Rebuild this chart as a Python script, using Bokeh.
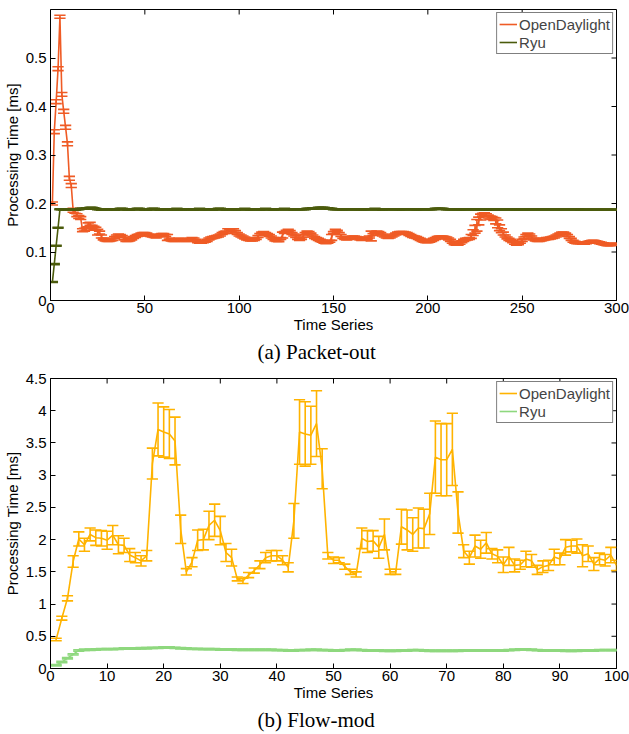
import math
from bokeh.plotting import figure
from bokeh.models import (FixedTicker, Title, Legend, LegendItem,
                          ColumnDataSource, Range1d, CustomJSTickFormatter)
from bokeh.layouts import column
from bokeh.embed import file_html
from bokeh.resources import INLINE

# ---------------- (a) Packet-out ----------------
odl_a = [
    0.200, 0.348, 0.410, 0.478, 0.585, 0.425, 0.390, 0.357, 0.323, 0.252, 0.237, 0.186, 0.183, 0.176, 0.172, 0.170, 0.145, 0.146, 0.148, 0.156,
    0.158, 0.152, 0.150, 0.148, 0.141, 0.140, 0.132, 0.127, 0.125, 0.124, 0.124, 0.125, 0.126, 0.130, 0.133, 0.135, 0.134, 0.132, 0.128, 0.124,
    0.124, 0.125, 0.127, 0.130, 0.132, 0.134, 0.135, 0.137, 0.138, 0.138, 0.137, 0.135, 0.134, 0.133, 0.132, 0.131, 0.133, 0.135, 0.136, 0.136,
    0.134, 0.130, 0.127, 0.125, 0.124, 0.124, 0.125, 0.126, 0.126, 0.125, 0.124, 0.124, 0.125, 0.126, 0.128, 0.127, 0.124, 0.121, 0.120, 0.120,
    0.121, 0.122, 0.124, 0.127, 0.129, 0.130, 0.131, 0.132, 0.133, 0.135, 0.138, 0.140, 0.141, 0.143, 0.145, 0.146, 0.146, 0.142, 0.138, 0.135,
    0.133, 0.131, 0.129, 0.127, 0.126, 0.125, 0.125, 0.126, 0.128, 0.132, 0.136, 0.139, 0.140, 0.138, 0.136, 0.134, 0.131, 0.128, 0.125, 0.124,
    0.123, 0.128, 0.135, 0.140, 0.143, 0.145, 0.142, 0.138, 0.135, 0.132, 0.128, 0.126, 0.128, 0.133, 0.138, 0.141, 0.140, 0.137, 0.133, 0.130,
    0.128, 0.126, 0.124, 0.122, 0.120, 0.119, 0.120, 0.122, 0.130, 0.140, 0.145, 0.143, 0.138, 0.134, 0.130, 0.128, 0.127, 0.128, 0.130, 0.131,
    0.131, 0.130, 0.129, 0.127, 0.126, 0.127, 0.128, 0.129, 0.131, 0.133, 0.136, 0.139, 0.141, 0.140, 0.138, 0.135, 0.133, 0.131, 0.130, 0.131,
    0.133, 0.135, 0.137, 0.139, 0.140, 0.140, 0.140, 0.139, 0.138, 0.136, 0.134, 0.132, 0.131, 0.130, 0.128, 0.126, 0.124, 0.122, 0.121, 0.121,
    0.122, 0.124, 0.126, 0.128, 0.130, 0.131, 0.131, 0.131, 0.130, 0.129, 0.127, 0.124, 0.120, 0.117, 0.116, 0.116, 0.118, 0.121, 0.124, 0.126,
    0.127, 0.128, 0.132, 0.140, 0.147, 0.155, 0.164, 0.172, 0.177, 0.178, 0.176, 0.173, 0.171, 0.170, 0.168, 0.164, 0.158, 0.150, 0.144, 0.138,
    0.133, 0.129, 0.126, 0.124, 0.121, 0.118, 0.116, 0.117, 0.120, 0.124, 0.129, 0.134, 0.137, 0.135, 0.131, 0.127, 0.125, 0.124, 0.124, 0.125,
    0.126, 0.127, 0.128, 0.128, 0.129, 0.130, 0.131, 0.133, 0.135, 0.137, 0.139, 0.139, 0.137, 0.134, 0.130, 0.126, 0.122, 0.120, 0.119, 0.119,
    0.119, 0.118, 0.118, 0.119, 0.120, 0.121, 0.122, 0.122, 0.121, 0.120, 0.119, 0.118, 0.117, 0.116, 0.115, 0.115, 0.115, 0.116, 0.116, 0.116,
]
odl_a_err = [
    0.003, 0.004, 0.004, 0.004, 0.003, 0.004, 0.004, 0.004, 0.004, 0.004, 0.004, 0.004, 0.003, 0.003, 0.003, 0.003, 0.003, 0.003, 0.003, 0.004,
    0.003, 0.003, 0.003, 0.003, 0.006, 0.003, 0.003, 0.002, 0.002, 0.002, 0.002, 0.002, 0.002, 0.002, 0.002, 0.002, 0.002, 0.002, 0.003, 0.002,
    0.002, 0.002, 0.002, 0.002, 0.002, 0.002, 0.002, 0.002, 0.002, 0.002, 0.002, 0.002, 0.002, 0.002, 0.002, 0.002, 0.002, 0.002, 0.002, 0.002,
    0.002, 0.006, 0.002, 0.002, 0.002, 0.002, 0.002, 0.002, 0.002, 0.002, 0.002, 0.002, 0.002, 0.002, 0.002, 0.002, 0.002, 0.002, 0.002, 0.002,
    0.002, 0.002, 0.002, 0.002, 0.002, 0.002, 0.002, 0.002, 0.002, 0.002, 0.002, 0.002, 0.002, 0.005, 0.002, 0.002, 0.002, 0.002, 0.002, 0.002,
    0.002, 0.002, 0.002, 0.002, 0.002, 0.002, 0.002, 0.002, 0.002, 0.002, 0.002, 0.002, 0.002, 0.002, 0.002, 0.002, 0.002, 0.002, 0.002, 0.002,
    0.002, 0.002, 0.006, 0.002, 0.002, 0.002, 0.002, 0.002, 0.002, 0.002, 0.002, 0.002, 0.002, 0.002, 0.002, 0.002, 0.002, 0.002, 0.002, 0.002,
    0.002, 0.002, 0.002, 0.002, 0.002, 0.002, 0.002, 0.002, 0.006, 0.002, 0.002, 0.002, 0.002, 0.002, 0.002, 0.002, 0.002, 0.002, 0.002, 0.002,
    0.002, 0.002, 0.002, 0.002, 0.002, 0.002, 0.002, 0.002, 0.002, 0.010, 0.002, 0.002, 0.002, 0.002, 0.002, 0.002, 0.002, 0.002, 0.002, 0.002,
    0.002, 0.002, 0.002, 0.002, 0.002, 0.002, 0.002, 0.002, 0.002, 0.002, 0.002, 0.002, 0.002, 0.002, 0.002, 0.002, 0.002, 0.002, 0.002, 0.002,
    0.002, 0.002, 0.002, 0.002, 0.002, 0.002, 0.002, 0.002, 0.002, 0.002, 0.002, 0.002, 0.002, 0.002, 0.002, 0.002, 0.002, 0.002, 0.002, 0.002,
    0.002, 0.002, 0.004, 0.006, 0.008, 0.012, 0.008, 0.006, 0.003, 0.003, 0.003, 0.003, 0.003, 0.003, 0.003, 0.006, 0.008, 0.006, 0.004, 0.003,
    0.002, 0.002, 0.002, 0.002, 0.002, 0.002, 0.002, 0.002, 0.002, 0.002, 0.002, 0.002, 0.002, 0.002, 0.002, 0.002, 0.002, 0.002, 0.002, 0.002,
    0.002, 0.002, 0.002, 0.002, 0.002, 0.002, 0.002, 0.002, 0.002, 0.002, 0.002, 0.002, 0.002, 0.002, 0.002, 0.002, 0.002, 0.002, 0.002, 0.002,
    0.002, 0.002, 0.002, 0.002, 0.002, 0.002, 0.002, 0.002, 0.002, 0.002, 0.002, 0.002, 0.002, 0.002, 0.002, 0.002, 0.002, 0.002, 0.002, 0.002,
]
ryu_a = [
    0.038, 0.075, 0.113, 0.150, 0.188, 0.188, 0.187, 0.187, 0.188, 0.188, 0.188, 0.187, 0.187, 0.188, 0.188, 0.189, 0.189, 0.189, 0.190, 0.190,
    0.191, 0.191, 0.190, 0.189, 0.188, 0.188, 0.187, 0.187, 0.187, 0.188, 0.188, 0.188, 0.187, 0.187, 0.188, 0.188, 0.189, 0.189, 0.188, 0.188,
    0.187, 0.187, 0.188, 0.188, 0.188, 0.189, 0.189, 0.188, 0.188, 0.187, 0.187, 0.188, 0.188, 0.189, 0.189, 0.188, 0.188, 0.187, 0.187, 0.188,
    0.188, 0.188, 0.187, 0.187, 0.188, 0.188, 0.189, 0.188, 0.188, 0.187, 0.187, 0.188, 0.188, 0.188, 0.187, 0.187, 0.188, 0.188, 0.189, 0.188,
    0.188, 0.187, 0.188, 0.188, 0.188, 0.187, 0.188, 0.188, 0.189, 0.189, 0.188, 0.188, 0.187, 0.188, 0.188, 0.188, 0.188, 0.187, 0.188, 0.188,
    0.188, 0.188, 0.189, 0.188, 0.188, 0.187, 0.188, 0.188, 0.188, 0.188, 0.187, 0.188, 0.188, 0.189, 0.188, 0.188, 0.188, 0.187, 0.188, 0.188,
    0.188, 0.188, 0.188, 0.189, 0.188, 0.188, 0.188, 0.188, 0.187, 0.188, 0.188, 0.188, 0.188, 0.188, 0.188, 0.189, 0.189, 0.189, 0.190, 0.190,
    0.190, 0.191, 0.191, 0.191, 0.191, 0.190, 0.190, 0.189, 0.189, 0.188, 0.188, 0.188, 0.188, 0.188, 0.187, 0.188, 0.188, 0.188, 0.188, 0.188,
    0.188, 0.188, 0.188, 0.187, 0.187, 0.188, 0.188, 0.188, 0.188, 0.188, 0.188, 0.189, 0.188, 0.188, 0.188, 0.187, 0.188, 0.188, 0.188, 0.188,
    0.188, 0.188, 0.188, 0.188, 0.187, 0.188, 0.188, 0.188, 0.188, 0.188, 0.188, 0.188, 0.188, 0.187, 0.188, 0.188, 0.188, 0.188, 0.188, 0.188,
    0.188, 0.188, 0.188, 0.189, 0.189, 0.189, 0.189, 0.189, 0.188, 0.188, 0.188, 0.188, 0.188, 0.188, 0.188, 0.187, 0.187, 0.188, 0.188, 0.188,
    0.188, 0.188, 0.188, 0.188, 0.188, 0.188, 0.188, 0.188, 0.188, 0.188, 0.187, 0.188, 0.188, 0.188, 0.188, 0.188, 0.188, 0.188, 0.188, 0.188,
    0.188, 0.188, 0.188, 0.188, 0.188, 0.188, 0.187, 0.187, 0.187, 0.187, 0.187, 0.188, 0.188, 0.188, 0.188, 0.188, 0.188, 0.188, 0.188, 0.188,
    0.188, 0.188, 0.188, 0.188, 0.188, 0.188, 0.188, 0.188, 0.188, 0.188, 0.188, 0.188, 0.188, 0.188, 0.188, 0.188, 0.188, 0.188, 0.188, 0.188,
    0.187, 0.187, 0.187, 0.187, 0.187, 0.187, 0.187, 0.187, 0.187, 0.187, 0.187, 0.187, 0.187, 0.187, 0.187, 0.187, 0.187, 0.187, 0.187, 0.187,
]
ryu_a_err = [
    0.001, 0.001, 0.001, 0.001, 0.001, 0.001, 0.001, 0.001, 0.001, 0.001, 0.001, 0.001, 0.001, 0.001, 0.001, 0.001, 0.001, 0.001, 0.001, 0.001,
    0.001, 0.001, 0.001, 0.001, 0.001, 0.001, 0.001, 0.001, 0.001, 0.001, 0.001, 0.001, 0.001, 0.001, 0.001, 0.001, 0.001, 0.001, 0.001, 0.001,
    0.001, 0.001, 0.001, 0.001, 0.001, 0.001, 0.001, 0.001, 0.001, 0.001, 0.001, 0.001, 0.001, 0.001, 0.001, 0.001, 0.001, 0.001, 0.001, 0.001,
    0.001, 0.001, 0.001, 0.001, 0.001, 0.001, 0.001, 0.001, 0.001, 0.001, 0.001, 0.001, 0.001, 0.001, 0.001, 0.001, 0.001, 0.001, 0.001, 0.001,
    0.001, 0.001, 0.001, 0.001, 0.001, 0.001, 0.001, 0.001, 0.001, 0.001, 0.001, 0.001, 0.001, 0.001, 0.001, 0.001, 0.001, 0.001, 0.001, 0.001,
    0.001, 0.001, 0.001, 0.001, 0.001, 0.001, 0.001, 0.001, 0.001, 0.001, 0.001, 0.001, 0.001, 0.001, 0.001, 0.001, 0.001, 0.001, 0.001, 0.001,
    0.001, 0.001, 0.001, 0.001, 0.001, 0.001, 0.001, 0.001, 0.001, 0.001, 0.001, 0.001, 0.001, 0.001, 0.001, 0.001, 0.001, 0.001, 0.001, 0.001,
    0.001, 0.001, 0.001, 0.001, 0.001, 0.001, 0.001, 0.001, 0.001, 0.001, 0.001, 0.001, 0.001, 0.001, 0.001, 0.001, 0.001, 0.001, 0.001, 0.001,
    0.001, 0.001, 0.001, 0.001, 0.001, 0.001, 0.001, 0.001, 0.001, 0.001, 0.001, 0.001, 0.001, 0.001, 0.001, 0.001, 0.001, 0.001, 0.001, 0.001,
    0.001, 0.001, 0.001, 0.001, 0.001, 0.001, 0.001, 0.001, 0.001, 0.001, 0.001, 0.001, 0.001, 0.001, 0.001, 0.001, 0.001, 0.001, 0.001, 0.001,
    0.001, 0.001, 0.001, 0.001, 0.001, 0.001, 0.001, 0.001, 0.001, 0.001, 0.001, 0.001, 0.001, 0.001, 0.001, 0.001, 0.001, 0.001, 0.001, 0.001,
    0.001, 0.001, 0.001, 0.001, 0.001, 0.001, 0.001, 0.001, 0.001, 0.001, 0.001, 0.001, 0.001, 0.001, 0.001, 0.001, 0.001, 0.001, 0.001, 0.001,
    0.001, 0.001, 0.001, 0.001, 0.001, 0.001, 0.001, 0.001, 0.001, 0.001, 0.001, 0.001, 0.001, 0.001, 0.001, 0.001, 0.001, 0.001, 0.001, 0.001,
    0.001, 0.001, 0.001, 0.001, 0.001, 0.001, 0.001, 0.001, 0.001, 0.001, 0.001, 0.001, 0.001, 0.001, 0.001, 0.001, 0.001, 0.001, 0.001, 0.001,
    0.001, 0.001, 0.001, 0.001, 0.001, 0.001, 0.001, 0.001, 0.001, 0.001, 0.001, 0.001, 0.001, 0.001, 0.001, 0.001, 0.001, 0.001, 0.001, 0.001,
]
x_a = list(range(1, 301))
xticks_a = [0, 50, 100, 150, 200, 250, 300]
yticks_a = [0, 0.1, 0.2, 0.3, 0.4, 0.5]

# ---------------- (b) Flow-mod ----------------
odl_b = [
    0.45, 0.78, 1.09, 1.66, 2.01, 1.92, 2.08, 2.03, 2.02, 1.99,
    2.07, 1.92, 1.91, 1.76, 1.72, 1.67, 1.75, 3.18, 3.71, 3.67,
    3.64, 3.53, 2.16, 1.50, 1.65, 1.99, 2.00, 2.22, 2.30, 2.14,
    1.80, 1.72, 1.39, 1.36, 1.45, 1.52, 1.61, 1.72, 1.75, 1.75,
    1.68, 1.57, 2.29, 3.67, 3.64, 3.62, 3.80, 3.10, 1.75, 1.68,
    1.68, 1.58, 1.50, 1.46, 2.02, 1.97, 1.98, 1.88, 2.08, 1.50,
    1.50, 2.20, 2.15, 2.08, 2.18, 2.17, 2.40, 3.28, 3.24, 3.24,
    3.40, 2.42, 1.82, 1.72, 1.90, 1.85, 1.95, 1.78, 1.74, 1.61,
    1.74, 1.60, 1.61, 1.70, 1.67, 1.53, 1.58, 1.60, 1.73, 1.70,
    1.88, 1.90, 1.90, 1.75, 1.78, 1.62, 1.70, 1.68, 1.76, 1.60,
]
odl_b_err = [
    0.02, 0.03, 0.04, 0.09, 0.11, 0.10, 0.10, 0.12, 0.12, 0.14,
    0.15, 0.14, 0.11, 0.10, 0.08, 0.08, 0.08, 0.24, 0.41, 0.39,
    0.38, 0.37, 0.22, 0.05, 0.07, 0.16, 0.16, 0.22, 0.25, 0.22,
    0.14, 0.13, 0.03, 0.04, 0.04, 0.04, 0.06, 0.08, 0.08, 0.08,
    0.07, 0.07, 0.27, 0.50, 0.50, 0.45, 0.51, 0.31, 0.05, 0.05,
    0.04, 0.04, 0.04, 0.04, 0.16, 0.17, 0.16, 0.17, 0.24, 0.04,
    0.04, 0.27, 0.31, 0.26, 0.31, 0.30, 0.32, 0.56, 0.56, 0.56,
    0.56, 0.32, 0.10, 0.10, 0.17, 0.14, 0.16, 0.08, 0.10, 0.12,
    0.14, 0.10, 0.07, 0.12, 0.10, 0.07, 0.09, 0.08, 0.12, 0.09,
    0.12, 0.09, 0.11, 0.17, 0.12, 0.10, 0.09, 0.09, 0.12, 0.08,
]
ryu_b = [
    0.05, 0.10, 0.16, 0.22, 0.28, 0.29, 0.29, 0.295, 0.30, 0.30,
    0.30, 0.305, 0.31, 0.31, 0.31, 0.315, 0.315, 0.32, 0.32, 0.325,
    0.325, 0.32, 0.315, 0.31, 0.305, 0.305, 0.30, 0.30, 0.30, 0.295,
    0.295, 0.295, 0.29, 0.29, 0.29, 0.29, 0.29, 0.29, 0.29, 0.285,
    0.285, 0.28, 0.28, 0.285, 0.285, 0.29, 0.29, 0.285, 0.285, 0.28,
    0.28, 0.285, 0.29, 0.29, 0.285, 0.28, 0.28, 0.28, 0.275, 0.275,
    0.275, 0.28, 0.28, 0.285, 0.285, 0.28, 0.275, 0.275, 0.275, 0.275,
    0.275, 0.275, 0.28, 0.28, 0.28, 0.28, 0.28, 0.28, 0.28, 0.28,
    0.285, 0.29, 0.295, 0.295, 0.29, 0.285, 0.28, 0.28, 0.28, 0.28,
    0.275, 0.275, 0.275, 0.28, 0.28, 0.28, 0.285, 0.285, 0.285, 0.285,
]
ryu_b_err = [
    0.01, 0.01, 0.01, 0.01, 0.01, 0.01, 0.01, 0.01, 0.01, 0.01,
    0.01, 0.01, 0.01, 0.01, 0.01, 0.01, 0.01, 0.01, 0.01, 0.01,
    0.01, 0.01, 0.01, 0.01, 0.01, 0.01, 0.01, 0.01, 0.01, 0.01,
    0.01, 0.01, 0.01, 0.01, 0.01, 0.01, 0.01, 0.01, 0.01, 0.01,
    0.01, 0.01, 0.01, 0.01, 0.01, 0.01, 0.01, 0.01, 0.01, 0.01,
    0.01, 0.01, 0.01, 0.01, 0.01, 0.01, 0.01, 0.01, 0.01, 0.01,
    0.01, 0.01, 0.01, 0.01, 0.01, 0.01, 0.01, 0.01, 0.01, 0.01,
    0.01, 0.01, 0.01, 0.01, 0.01, 0.01, 0.01, 0.01, 0.01, 0.01,
    0.01, 0.01, 0.01, 0.01, 0.01, 0.01, 0.01, 0.01, 0.01, 0.01,
    0.01, 0.01, 0.01, 0.01, 0.01, 0.01, 0.01, 0.01, 0.01, 0.01,
]
x_b = list(range(1, 101))
xticks_b = [0, 10, 20, 30, 40, 50, 60, 70, 80, 90, 100]
yticks_b = [0, 0.5, 1, 1.5, 2, 2.5, 3, 3.5, 4, 4.5]

series_names = ["OpenDaylight", "Ryu"]
FONT = "Liberation Sans"
FS = "15px"

fmt = CustomJSTickFormatter(code="return String(parseFloat(tick.toFixed(3)));")


def style_axis(ax):
    ax.major_tick_in = 5
    ax.major_tick_out = 0
    ax.minor_tick_in = 0
    ax.minor_tick_out = 0
    ax.axis_line_color = "black"
    ax.major_tick_line_color = "black"
    ax.major_label_text_font = FONT
    ax.major_label_text_font_size = FS
    ax.major_label_text_color = "black"
    ax.axis_label_text_font = FONT
    ax.axis_label_text_font_size = FS
    ax.axis_label_text_font_style = "normal"
    ax.axis_label_text_color = "black"


def errorbars(p, x, y, e, tee, color, width):
    src = ColumnDataSource(dict(
        x=x, lo=[a - b for a, b in zip(y, e)], hi=[a + b for a, b in zip(y, e)],
        xl=[v - tee for v in x], xr=[v + tee for v in x]))
    p.segment(x0="x", y0="lo", x1="x", y1="hi", source=src, line_color=color, line_width=width)
    p.segment(x0="xl", y0="lo", x1="xr", y1="lo", source=src, line_color=color, line_width=width)
    p.segment(x0="xl", y0="hi", x1="xr", y1="hi", source=src, line_color=color, line_width=width)
    return p.line(x, y, line_color=color, line_width=width)


def panel(x, odl, odl_e, ryu, ryu_e, xmax, ymax, xticks, yticks, c_odl, c_ryu,
          caption, border_top, border_bottom, height):
    p = figure(width=629, height=height, x_range=Range1d(0, xmax), y_range=Range1d(0, ymax),
               output_backend="svg", toolbar_location=None,
               min_border_left=50, min_border_right=13,
               min_border_top=border_top, min_border_bottom=border_bottom)
    p.grid.visible = False
    p.outline_line_color = "black"
    p.outline_line_width = 1
    p.xaxis.ticker = FixedTicker(ticks=xticks)
    p.yaxis.ticker = FixedTicker(ticks=yticks)
    p.yaxis.formatter = fmt
    for ax in p.xaxis + p.yaxis:
        style_axis(ax)
    p.xaxis.axis_label = "Time Series"
    p.xaxis.major_label_standoff = 2
    p.xaxis.axis_label_standoff = 0
    p.yaxis.axis_label = "Processing Time [ms]"
    p.yaxis.major_label_standoff = 4
    p.yaxis.axis_label_standoff = 2

    # inward tick marks on the top and right edges of the box (MATLAB style)
    p.ray(x=xticks, y=[ymax] * len(xticks), length=5, length_units="screen",
          angle=-math.pi / 2, line_color="black", line_width=1)
    p.ray(x=[xmax] * len(yticks), y=yticks, length=5, length_units="screen",
          angle=math.pi, line_color="black", line_width=1)

    tee = (max(x) - min(x)) / 100.0
    r1 = errorbars(p, x, odl, odl_e, tee, c_odl, 1.6)
    r2 = errorbars(p, x, ryu, ryu_e, tee, c_ryu, 1.6)

    leg = Legend(items=[LegendItem(label=series_names[0], renderers=[r1]),
                        LegendItem(label=series_names[1], renderers=[r2])],
                 location="top_right", border_line_color="black", border_line_width=1,
                 background_fill_alpha=1, label_text_font=FONT, label_text_font_size=FS,
                 padding=2, spacing=0, margin=3, glyph_width=18, glyph_height=18,
                 label_height=18, label_standoff=2)
    p.add_layout(leg)

    t = Title(text=caption, align="left", offset=207, text_font="Liberation Serif",
              text_font_size="21px", text_font_style="normal", text_color="black", standoff=5)
    p.add_layout(t, "below")
    return p


pa = panel(x_a, odl_a, odl_a_err, ryu_a, ryu_a_err, 300, 0.6, xticks_a, yticks_a,
           "#EF5B25", "#4B5B0C", "(a) Packet-out", 9, 67, 367)
pb = panel(x_b, odl_b, odl_b_err, ryu_b, ryu_b_err, 100, 4.5, xticks_b, yticks_b,
           "#FFB300", "#8ED87E", "(b) Flow-mod", 11, 66, 367)

layout = column(pa, pb, spacing=0)
open("out.html", "w").write(file_html(layout, INLINE))
